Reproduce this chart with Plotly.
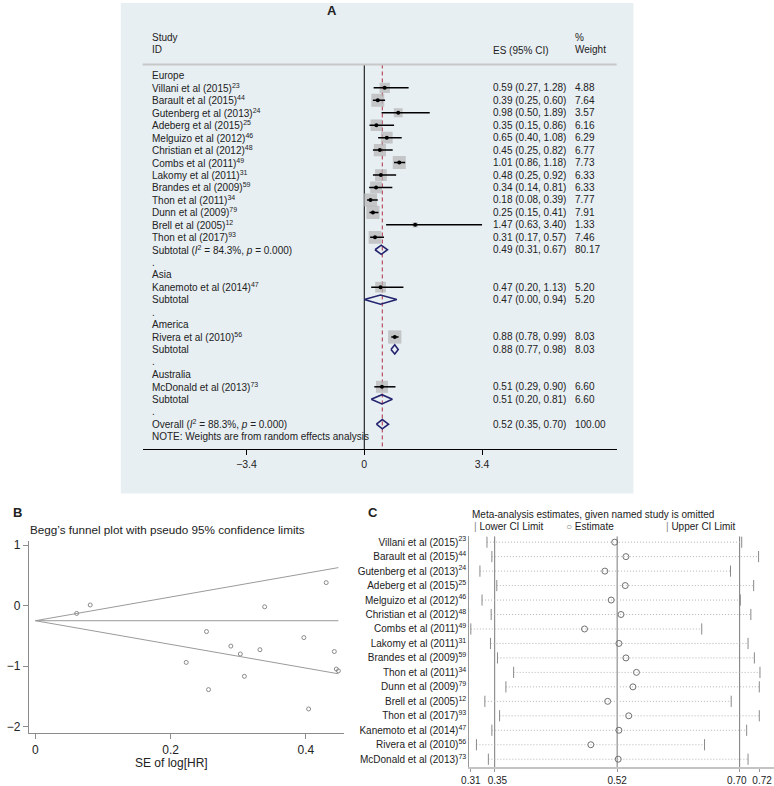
import math
import plotly.graph_objects as go

FONT = "Liberation Sans, Arial, Helvetica, sans-serif"
TXT = "#222222"
W, H = 774, 786

# ---------------- Panel A data (forest plot) ----------------
study_names = ["Villani et al (2015)", "Barault et al (2015)", "Gutenberg et al (2013)",
               "Adeberg et al (2015)", "Melguizo et al (2012)", "Christian et al (2012)",
               "Combs et al (2011)", "Lakomy et al (2011)", "Brandes et al (2009)",
               "Thon et al (2011)", "Dunn et al (2009)", "Brell et al (2005)",
               "Thon et al (2017)", "Kanemoto et al (2014)", "Rivera et al (2010)",
               "McDonald et al (2013)"]
study_refs = ["23", "44", "24", "25", "46", "48", "49", "31", "59", "34", "79", "12", "93",
              "47", "56", "73"]
study_region = ["Europe"] * 13 + ["Asia", "America", "Australia"]
es = [0.59, 0.39, 0.98, 0.35, 0.65, 0.45, 1.01, 0.48, 0.34, 0.18, 0.25, 1.47, 0.31, 0.47, 0.88, 0.51]
ci_lo = [0.27, 0.25, 0.50, 0.15, 0.40, 0.25, 0.86, 0.25, 0.14, 0.08, 0.15, 0.63, 0.17, 0.20, 0.78, 0.29]
ci_hi = [1.28, 0.60, 1.89, 0.86, 1.08, 0.82, 1.18, 0.92, 0.81, 0.39, 0.41, 3.40, 0.57, 1.13, 0.99, 0.90]
weight = [4.88, 7.64, 3.57, 6.16, 6.29, 6.77, 7.73, 6.33, 6.33, 7.77, 7.91, 1.33, 7.46, 5.20, 8.03, 6.60]

regions = ["Europe", "Asia", "America", "Australia"]
sub_labels = ["Subtotal (<i>I</i><sup>2</sup> = 84.3%, <i>p</i> = 0.000)", "Subtotal", "Subtotal", "Subtotal"]
sub_es = [0.49, 0.47, 0.88, 0.51]
sub_lo = [0.31, 0.00, 0.77, 0.20]
sub_hi = [0.67, 0.94, 0.98, 0.81]
sub_weight = [80.17, 5.20, 8.03, 6.60]

overall_label = "Overall (<i>I</i><sup>2</sup> = 88.3%, <i>p</i> = 0.000)"
overall_es, overall_lo, overall_hi, overall_weight = 0.52, 0.35, 0.70, 100.00
note_text = "NOTE: Weights are from random effects analysis"
xA_tickvals = [-3.4, 0, 3.4]
xA_ticktext = ["\u22123.4", "0", "3.4"]

# ---------------- Panel B data (Begg funnel) ----------------
funnel_se = [0.397, 0.223, 0.339, 0.445, 0.253, 0.303, 0.081, 0.332, 0.448, 0.404, 0.256, 0.430,
             0.309, 0.442, 0.061, 0.289]
funnel_loghr = [-0.53, -0.94, -0.02, -1.05, -0.43, -0.80, 0.01, -0.73, -1.08, -1.71, -1.39, 0.38,
                -1.17, -0.76, -0.13, -0.67]
funnel_center = -0.25
funnel_se_max = 0.448
xB_tickvals = [0, 0.2, 0.4]
xB_ticktext = ["0", "0.2", "0.4"]
yB_tickvals = [1, 0, -1, -2]
yB_ticktext = ["1", "0", "\u22121", "\u22122"]

# ---------------- Panel C data (influence analysis) ----------------
omit_est = [0.519, 0.535, 0.505, 0.534, 0.514, 0.528, 0.476, 0.525, 0.535, 0.550, 0.545, 0.509,
            0.539, 0.525, 0.485, 0.524]
omit_lo = [0.337, 0.344, 0.327, 0.351, 0.330, 0.343, 0.314, 0.342, 0.352, 0.375, 0.364, 0.334,
           0.355, 0.344, 0.322, 0.339]
omit_hi = [0.700, 0.724, 0.684, 0.717, 0.698, 0.713, 0.643, 0.709, 0.718, 0.726, 0.725, 0.685,
           0.725, 0.707, 0.647, 0.709]
pooled_est, pooled_lo, pooled_hi = 0.5225, 0.348, 0.697
xC_tickvals = [0.314, 0.348, 0.5225, 0.697, 0.725]
NB = "\u00a0\u00a0"
xC_ticktext = ["0.31", NB + "0.35", "0.52", "0.70" + NB, NB + "0.72"]


def fx(p):
    return p / W


def fy(p):
    return 1 - p / H


fig = go.Figure()
annotations = []
shapes = []
FS_A = 10

# ---------------- Panel A layout geometry ----------------
A_x0, A_x1, A_y0, A_y1 = 136, 615, 21, 450
A_zero, A_scale = 360, 35.0
A_row0, A_rowh = 73, 12.57
xA_range = [(A_x0 - A_zero) / A_scale, (A_x1 - A_zero) / A_scale]
yA_range = [(A_y1 - A_row0) / A_rowh, (A_y0 - A_row0) / A_rowh]
col_label = (143 - A_zero) / A_scale
col_es = (488 - A_zero) / A_scale
col_w = (571 - A_zero) / A_scale
header_row = (62 - A_row0) / A_rowh

table = []
st_rows, st_idx, sub_rows = [], [], []
r = 0
for g, reg in enumerate(regions):
    table.append((r, reg, "", ""))
    r += 1
    for i, sr in enumerate(study_region):
        if sr == reg:
            table.append((r, f"{study_names[i]}<sup>{study_refs[i]}</sup>",
                          f"{es[i]:.2f} ({ci_lo[i]:.2f}, {ci_hi[i]:.2f})", f"{weight[i]:.2f}"))
            st_rows.append(r)
            st_idx.append(i)
            r += 1
    table.append((r, sub_labels[g], f"{sub_es[g]:.2f} ({sub_lo[g]:.2f}, {sub_hi[g]:.2f})",
                  f"{sub_weight[g]:.2f}"))
    sub_rows.append(r)
    r += 1
    table.append((r, ".", "", ""))
    r += 1
overall_row = r
table.append((r, overall_label, f"{overall_es:.2f} ({overall_lo:.2f}, {overall_hi:.2f})",
              f"{overall_weight:.2f}"))
r += 1
table.append((r, note_text, "", ""))


def atext(x, y, text):
    annotations.append(dict(x=x, y=y, xref="x", yref="y", text=text, showarrow=False,
                            xanchor="left", yanchor="middle", font=dict(size=FS_A, color=TXT)))


for (row, lab, est, wt) in table:
    atext(col_label, row, lab)
    if est:
        atext(col_es, row, est)
    if wt:
        atext(col_w, row, wt)

for txt, row, col in [("Study", -3.02, col_label), ("ID", -2.07, col_label),
                      ("ES (95% CI)", -2.0, col_es), ("%", -3.02, col_w), ("Weight", -2.07, col_w)]:
    atext(col, row, txt)

fig.add_trace(go.Scatter(x=[0, 0], y=[header_row, yA_range[0]], mode="lines",
                         line=dict(color="black", width=1), xaxis="x", yaxis="y", hoverinfo="skip"))
fig.add_trace(go.Scatter(x=[overall_es, overall_es], y=[header_row, yA_range[0]], mode="lines",
                         line=dict(color="#b03040", width=1, dash="4px,3px"), xaxis="x", yaxis="y",
                         hoverinfo="skip"))
fig.add_trace(go.Scatter(x=[es[i] for i in st_idx], y=st_rows, mode="markers",
                         marker=dict(symbol="square", color="#b4b4b4",
                                     size=[13 * math.sqrt(weight[i] / 7.73) for i in st_idx],
                                     line=dict(width=0)),
                         xaxis="x", yaxis="y", hoverinfo="skip"))
lx, ly = [], []
for rr, i in zip(st_rows, st_idx):
    lx += [ci_lo[i], ci_hi[i], None]
    ly += [rr, rr, None]
fig.add_trace(go.Scatter(x=lx, y=ly, mode="lines", line=dict(color="black", width=1.5),
                         xaxis="x", yaxis="y", hoverinfo="skip"))
fig.add_trace(go.Scatter(x=[es[i] for i in st_idx], y=st_rows, mode="markers",
                         marker=dict(symbol="circle", color="black", size=4),
                         xaxis="x", yaxis="y", hoverinfo="skip"))
dx, dy = [], []
hh = 0.37
for rr, e, lo, hi in zip(sub_rows + [overall_row], sub_es + [overall_es], sub_lo + [overall_lo],
                         sub_hi + [overall_hi]):
    dx += [lo, e, hi, e, lo, None]
    dy += [rr, rr - hh, rr, rr + hh, rr, None]
fig.add_trace(go.Scatter(x=dx, y=dy, mode="lines", line=dict(color="#23236e", width=1.6),
                         xaxis="x", yaxis="y", hoverinfo="skip"))

shapes.append(dict(type="rect", xref="paper", yref="paper", x0=fx(114), x1=fx(632), y0=fy(495),
                   y1=fy(0), fillcolor="#e8eff3", line=dict(width=0), layer="below"))
shapes.append(dict(type="line", xref="paper", yref="paper", x0=fx(A_x0), x1=fx(A_x1), y0=fy(62),
                   y1=fy(62), line=dict(color="#c8c8c8", width=2)))

# ---------------- Panel B ----------------
B_zero_x, B_kx = 27.7, 683.3
B_zero_y, B_ky = 608, 61.0
xB_range = [(21 - B_zero_x) / B_kx, (340 - B_zero_x) / B_kx]
yB_range = [(B_zero_y - 737) / B_ky, (B_zero_y - 543) / B_ky]
fl_x, fl_y = [], []
for s in [1.96, -1.96, 0]:
    fl_x += [0, funnel_se_max, None]
    fl_y += [funnel_center, funnel_center + s * funnel_se_max, None]
fig.add_trace(go.Scatter(x=fl_x, y=fl_y, mode="lines", line=dict(color="#9a9a9a", width=1),
                         xaxis="x2", yaxis="y2", hoverinfo="skip"))
fig.add_trace(go.Scatter(x=funnel_se, y=funnel_loghr, mode="markers",
                         marker=dict(symbol="circle-open", color="#8a8a8a", size=4,
                                     line=dict(width=1)),
                         xaxis="x2", yaxis="y2", hoverinfo="skip"))

# ---------------- Panel C ----------------
C_x_est_px, C_kx = 616, 711.5
xC_range = [pooled_est + (466 - C_x_est_px) / C_kx, pooled_est + (775 - C_x_est_px) / C_kx]
C_row0, C_rowh = 544, 14.6
yC_range = [(771 - C_row0) / C_rowh, (538 - C_row0) / C_rowh]
rowsC = list(range(len(study_names)))
for v in [pooled_lo, pooled_est, pooled_hi]:
    fig.add_trace(go.Scatter(x=[v, v], y=list(yC_range), mode="lines",
                             line=dict(color="#7a7a7a", width=1), xaxis="x3", yaxis="y3",
                             hoverinfo="skip"))
cx, cy = [], []
for i in rowsC:
    cx += [omit_lo[i], omit_hi[i], None]
    cy += [i, i, None]
fig.add_trace(go.Scatter(x=cx, y=cy, mode="lines",
                         line=dict(color="#b4b4b4", width=1, dash="1px,2px"),
                         xaxis="x3", yaxis="y3", hoverinfo="skip"))
for arr in (omit_lo, omit_hi):
    fig.add_trace(go.Scatter(x=arr, y=rowsC, mode="markers",
                             marker=dict(symbol="line-ns", size=8, line=dict(color="#8a8a8a", width=1)),
                             xaxis="x3", yaxis="y3", hoverinfo="skip"))
fig.add_trace(go.Scatter(x=omit_est, y=rowsC, mode="markers",
                         marker=dict(symbol="circle-open", size=6, color="#707070", line=dict(width=1)),
                         xaxis="x3", yaxis="y3", hoverinfo="skip"))


def ptext(x, y, text, size=12, anchor="left", bold=False, color=TXT):
    annotations.append(dict(x=fx(x), y=fy(y), xref="paper", yref="paper",
                            text=f"<b>{text}</b>" if bold else text, showarrow=False,
                            xanchor=anchor, yanchor="middle", font=dict(size=size, color=color)))


ptext(320, 8, "A", 13, bold=True)
ptext(3, 514, "B", 13, bold=True)
ptext(362, 514, "C", 13, bold=True)
ptext(20, 531, "Begg\u2019s funnel plot with pseudo 95% confidence limits", 11.7)
ptext(165, 767, "SE of log[HR]", 12, anchor="center")
ptext(467, 516, "Meta-analysis estimates, given named study is omitted", 10)
ptext(469, 528, "<span style='color:#888'>|</span> Lower CI Limit", 10)
ptext(562, 528, "<span style='color:#888'>\u25cb</span> Estimate", 10)
ptext(663, 528, "<span style='color:#888'>|</span> Upper CI Limit", 10)

fig.update_layout(
    width=W, height=H, autosize=False,
    margin=dict(l=0, r=0, t=0, b=0),
    paper_bgcolor="white", plot_bgcolor="white",
    showlegend=False,
    font=dict(family=FONT, color=TXT, size=11),
    shapes=shapes, annotations=annotations,
    xaxis=dict(domain=[fx(A_x0), fx(A_x1)], range=xA_range, anchor="y", showgrid=False,
               zeroline=False, showline=True, linecolor="black", linewidth=1, ticks="outside",
               ticklen=5, tickcolor="black", tickvals=xA_tickvals, ticktext=xA_ticktext,
               tickfont=dict(size=10.5, color=TXT)),
    yaxis=dict(domain=[fy(A_y1), fy(A_y0)], range=yA_range, anchor="x", visible=False),
    xaxis2=dict(domain=[fx(21), fx(340)], range=xB_range, anchor="y2", showgrid=False,
                zeroline=False, showline=True, linecolor="#8c8c8c", linewidth=1, ticks="outside",
                ticklen=5, tickcolor="#8c8c8c", tickvals=xB_tickvals, ticktext=xB_ticktext,
                tickfont=dict(size=12, color=TXT)),
    yaxis2=dict(domain=[fy(737), fy(543)], range=yB_range, anchor="x2", showgrid=False,
                zeroline=False, showline=True, linecolor="#8c8c8c", linewidth=1, ticks="outside",
                ticklen=5, tickcolor="#8c8c8c", tickvals=yB_tickvals, ticktext=yB_ticktext,
                tickfont=dict(size=12, color=TXT)),
    xaxis3=dict(domain=[fx(466), 1], range=xC_range, anchor="y3", showgrid=False, zeroline=False,
                showline=True, linecolor="#c4c4c4", linewidth=2, ticks="outside", ticklen=3,
                tickcolor="#999", tickvals=xC_tickvals, ticktext=xC_ticktext, tickangle=0,
                tickfont=dict(size=10, color=TXT)),
    yaxis3=dict(domain=[fy(771), fy(538)], range=yC_range, anchor="x3", showgrid=False,
                zeroline=False, showline=True, linecolor="#9a9a9a", linewidth=1, ticks="",
                tickvals=rowsC,
                ticktext=[f"{n}<sup>{r_}</sup>" for n, r_ in zip(study_names, study_refs)],
                tickfont=dict(size=10, color=TXT)),
)

fig.write_html("out.html", config={"displayModeBar": False},
               post_script="document.body.style.margin='0';document.body.style.overflow='hidden';")
